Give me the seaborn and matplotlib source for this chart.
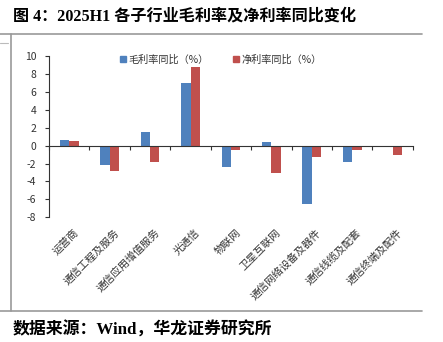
import matplotlib
matplotlib.use("Agg")
import matplotlib.pyplot as plt
import seaborn as sns
import pandas as pd
from matplotlib.lines import Line2D

categories = ["运营商", "通信工程及服务", "通信应用增值服务", "光通信", "物联网",
              "卫星互联网", "通信网络设备及器件", "通信线缆及配套", "通信终端及配件"]
gross_margin_yoy = [0.6, -2.15, 1.5, 7.0, -2.35, 0.35, -6.5, -1.85, -0.1]
net_margin_yoy = [0.5, -2.85, -1.8, 8.8, -0.5, -3.05, -1.25, -0.45, -1.0]
series_names = ["毛利率同比（%）", "净利率同比（%）"]
yticks = [-8, -6, -4, -2, 0, 2, 4, 6, 8, 10]

sns.set_theme(style="white")
plt.rcParams['font.family'] = ['Noto Sans CJK SC', 'DejaVu Sans']

df = pd.DataFrame({
    "cat": categories * 2,
    "val": gross_margin_yoy + net_margin_yoy,
    "series": [series_names[0]] * len(categories) + [series_names[1]] * len(categories),
})

fig = plt.figure(figsize=(4.43, 3.42), dpi=100)
ax = fig.add_axes([0.1106, 0.3646, 0.8214, 0.4717])
sns.barplot(data=df, x="cat", y="val", hue="series", order=categories,
            hue_order=series_names, palette=["#4F81BD", "#C0504D"],
            width=0.46, saturation=1, ax=ax, legend=False, edgecolor="none")

n = len(categories)
ax.set_xlim(-0.5, n - 0.5)
ax.set_ylim(-8, 10)
ax.set_yticks(yticks)
ax.set_yticklabels([str(t) for t in yticks], fontsize=7.5, color="#333333")
ax.set_xlabel("")
ax.set_ylabel("")
for s in ["top", "right"]:
    ax.spines[s].set_visible(False)
ax.spines["left"].set_color("#333333")
ax.spines["left"].set_linewidth(0.8)
ax.spines["bottom"].set_position(("data", 0))
ax.spines["bottom"].set_color("#333333")
ax.spines["bottom"].set_linewidth(0.8)
ax.set_xticks([i + 0.5 for i in range(-1, n)])
ax.set_xticklabels([])
ax.tick_params(axis="x", direction="out", length=3, width=0.8, color="#333333", bottom=True)
ax.tick_params(axis="y", direction="out", length=3, width=0.8, color="#333333", left=True, pad=6)

for i, c in enumerate(categories):
    ax.text(i + 0.1, -9.1, c, rotation=45, ha="right", va="top",
            rotation_mode="anchor", fontsize=7.6, color="#333333")

handles = [Line2D([0], [0], marker="s", linestyle="none", markersize=4,
                  markerfacecolor=col, markeredgecolor=col)
           for col in ["#4F81BD", "#C0504D"]]
ax.legend(handles, series_names, loc="upper left", bbox_to_anchor=(0.165, 1.065),
          ncol=2, frameon=False, fontsize=7.3, handletextpad=0.0, columnspacing=2.2,
          handlelength=1.0, labelcolor="#333333")

title_font = ['Liberation Serif', 'Noto Sans CJK SC']
fig.text(13 / 443, 1 - 16 / 342, "图 4：2025H1 各子行业毛利率及净利率同比变化",
         fontsize=11.6, fontweight="bold", va="center", ha="left", color="black",
         family=title_font)
fig.text(13 / 443, 1 - 330 / 342, "数据来源：Wind，华龙证券研究所",
         fontsize=12.2, fontweight="bold", va="center", ha="left", color="black",
         family=title_font)

gray = "#999999"
fig.add_artist(Line2D([0, 422 / 443], [1 - 34 / 342] * 2, color=gray, lw=1.2))
fig.add_artist(Line2D([0, 422 / 443], [1 - 311 / 342] * 2, color=gray, lw=1.2))
fig.add_artist(Line2D([11 / 443] * 2, [1 - 34 / 342, 1 - 311 / 342], color=gray, lw=1.2))
fig.add_artist(Line2D([0, 8 / 443], [1 - 43 / 342] * 2, color="#bbbbbb", lw=0.8))

fig.savefig("out.png", dpi=100)
